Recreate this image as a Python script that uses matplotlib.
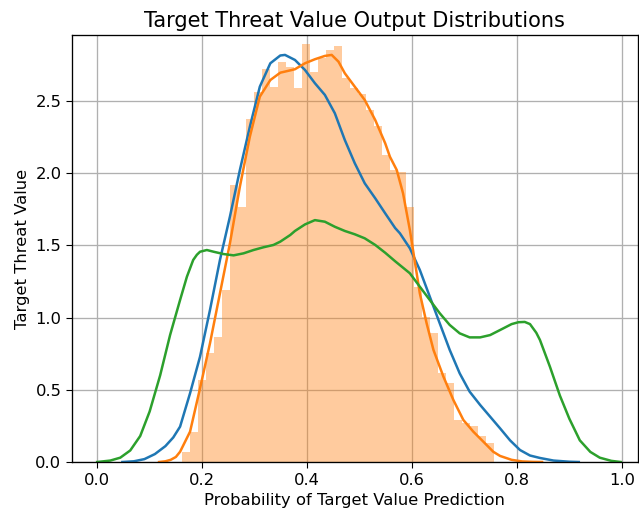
import numpy as np
import matplotlib
matplotlib.use("Agg")
import matplotlib.pyplot as plt

# histogram (density) of the orange series
bin_left = 0.162
bin_width = 0.01524
hist_heights = [0.071, 0.21, 0.568, 0.753, 0.868, 1.19, 1.918, 1.768, 2.373, 2.565,
                2.72, 2.6, 2.77, 2.733, 2.59, 2.895, 2.70, 2.80, 2.85, 2.88,
                2.657, 2.59, 2.55, 2.44, 2.33, 2.126, 2.02, 2.01, 1.768, 1.214,
                1.006, 0.891, 0.614, 0.545, 0.291, 0.27, 0.25, 0.18, 0.13]

# kde curves
blue_x = [0.048, 0.07, 0.09, 0.11, 0.13, 0.145, 0.158, 0.177, 0.196, 0.215, 0.234,
          0.253, 0.272, 0.291, 0.310, 0.330, 0.349, 0.358, 0.377, 0.396, 0.415,
          0.434, 0.453, 0.472, 0.491, 0.510, 0.530, 0.549, 0.568, 0.577, 0.596,
          0.615, 0.634, 0.653, 0.672, 0.691, 0.710, 0.730, 0.749, 0.768, 0.787,
          0.806, 0.825, 0.844, 0.87, 0.9, 0.918]
blue_y = [0.0, 0.005, 0.02, 0.055, 0.11, 0.17, 0.245, 0.476, 0.729, 1.053, 1.399,
          1.699, 2.022, 2.322, 2.599, 2.761, 2.815, 2.819, 2.784, 2.715, 2.623,
          2.542, 2.415, 2.23, 2.069, 1.93, 1.826, 1.722, 1.62, 1.584, 1.48,
          1.33, 1.145, 0.96, 0.776, 0.614, 0.487, 0.395, 0.314, 0.233, 0.15,
          0.083, 0.045, 0.028, 0.01, 0.002, 0.0]

orange_x = [0.118, 0.13, 0.14, 0.15, 0.158, 0.177, 0.196, 0.215, 0.234, 0.253,
            0.272, 0.291, 0.310, 0.330, 0.349, 0.368, 0.377, 0.396, 0.415, 0.434,
            0.447, 0.460, 0.472, 0.491, 0.510, 0.530, 0.549, 0.558, 0.571, 0.583,
            0.596, 0.606, 0.615, 0.628, 0.641, 0.660, 0.679, 0.698, 0.717, 0.736,
            0.755, 0.768, 0.79, 0.81, 0.83, 0.848]
orange_y = [0.0, 0.005, 0.015, 0.035, 0.071, 0.21, 0.51, 0.822, 1.168, 1.514,
            1.907, 2.253, 2.53, 2.645, 2.696, 2.712, 2.72, 2.761, 2.789, 2.812,
            2.819, 2.772, 2.692, 2.599, 2.507, 2.368, 2.207, 2.114, 2.022, 1.861,
            1.607, 1.376, 1.168, 0.96, 0.776, 0.591, 0.429, 0.291, 0.21, 0.141,
            0.071, 0.042, 0.015, 0.004, 0.001, 0.0]

green_x = [0.0, 0.025, 0.044, 0.063, 0.082, 0.1, 0.12, 0.139, 0.158, 0.171, 0.183,
           0.19, 0.196, 0.209, 0.222, 0.241, 0.260, 0.279, 0.298, 0.317, 0.336,
           0.349, 0.368, 0.377, 0.396, 0.415, 0.434, 0.453, 0.472, 0.491, 0.510,
           0.530, 0.549, 0.568, 0.596, 0.615, 0.634, 0.653, 0.672, 0.691, 0.710,
           0.730, 0.749, 0.768, 0.79, 0.803, 0.815, 0.825, 0.837, 0.844, 0.863,
           0.882, 0.90, 0.92, 0.94, 0.958, 0.98, 0.998]
green_y = [0.0, 0.01, 0.03, 0.08, 0.18, 0.35, 0.6, 0.88, 1.122, 1.283, 1.399,
           1.435, 1.456, 1.468, 1.456, 1.44, 1.431, 1.445, 1.468, 1.487, 1.503,
           1.526, 1.572, 1.6, 1.645, 1.675, 1.664, 1.629, 1.6, 1.577, 1.549,
           1.503, 1.449, 1.39, 1.307, 1.214, 1.122, 1.03, 0.949, 0.891, 0.863,
           0.863, 0.879, 0.914, 0.955, 0.968, 0.97, 0.955, 0.895, 0.845, 0.66,
           0.46, 0.3, 0.15, 0.07, 0.03, 0.008, 0.0]

edges = bin_left + bin_width * np.arange(len(hist_heights) + 1)

plt.rcParams["font.size"] = 11.8
plt.rcParams["xtick.major.size"] = 4.1
plt.rcParams["ytick.major.size"] = 4.1
plt.rcParams["grid.linewidth"] = 0.95
plt.rcParams["axes.linewidth"] = 0.95

fig = plt.figure(figsize=(6.39, 5.13), dpi=100)
ax = fig.add_axes([0.1127, 0.0994, 0.885, 0.8324])

ax.hist(edges[:-1], bins=edges, weights=hist_heights, color="C1", alpha=0.4)
ax.plot(blue_x, blue_y, color="C0", lw=1.8)
ax.plot(orange_x, orange_y, color="C1", lw=1.8)
ax.plot(green_x, green_y, color="C2", lw=1.8)

ax.set_xlim(-0.048, 1.03)
ax.set_ylim(0, 2.957)
ax.set_xticks([0.0, 0.2, 0.4, 0.6, 0.8, 1.0])
ax.set_yticks([0.0, 0.5, 1.0, 1.5, 2.0, 2.5])
ax.grid(True)
ax.set_axisbelow(True)

ax.set_title("Target Threat Value Output Distributions", fontsize=15)
ax.set_xlabel("Probability of Target Value Prediction")
ax.set_ylabel("Target Threat Value")

fig.savefig("out.png", dpi=100)
